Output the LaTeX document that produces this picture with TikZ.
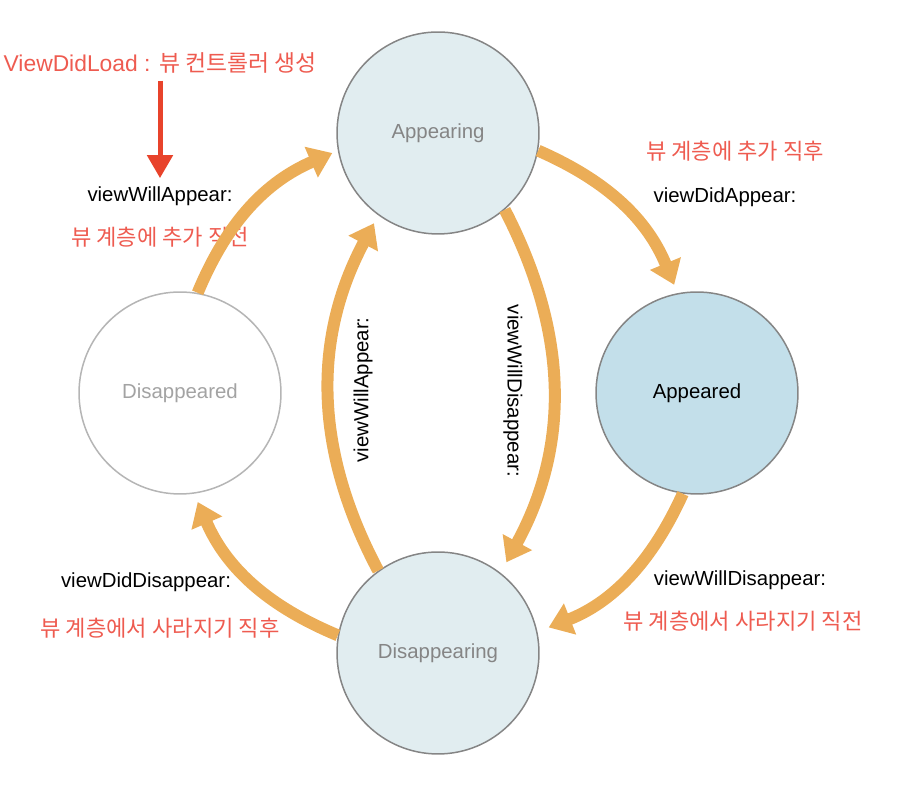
\documentclass[tikz,border=0pt]{standalone}
\usepackage{fontspec}
\setmainfont{Liberation Sans}
\newfontfamily\kr{Noto Sans CJK KR}
\usetikzlibrary{arrows.meta}
\definecolor{appfill}{HTML}{E1EDF0}
\definecolor{apdfill}{HTML}{C3DFEA}
\definecolor{stategray}{HTML}{858585}
\definecolor{disgray}{HTML}{B5B5B5}
\definecolor{disfont}{HTML}{A3A3A3}
\definecolor{floworange}{HTML}{EBAD57}
\definecolor{notered}{HTML}{EE5B50}
\definecolor{loadred}{HTML}{E8432B}

\begin{document}
\begin{tikzpicture}[x=0.02cm, y=0.02cm,
		state/.style={circle, draw=stategray, line width=0.03cm, minimum size=4.04cm, inner sep=0pt, font=\fontsize{11.6}{14}\selectfont},
		call/.style={inner sep=0pt, font=\fontsize{11.6}{14}\selectfont},
		note/.style={inner sep=0pt, text=notered, font=\kr\fontsize{12.6}{15}\selectfont},
		flow/.style={draw=floworange, line width=0.24cm, -{Triangle[length=0.46cm, width=0.64cm]}}]
			%%%%% START %%%%%
			
			\useasboundingbox (0, 0) rectangle (900, 786);
			
			\node[state, fill=appfill, text=stategray] (appearing) at (438, 653) {Appearing};
			\node[state, fill=apdfill, text=black] (appeared) at (697, 393) {Appeared};
			\node[state, fill=white, draw=disgray, text=disfont] (disappeared) at (180, 393) {Disappeared};
			\node[state, fill=appfill, text=stategray] (disappearing) at (438, 133) {Disappearing};
			
			\node[inner sep=0pt, text=notered, font=\fontsize{13}{16}\selectfont] (load) at (160, 723) {ViewDidLoad : {\kr 뷰 컨트롤러 생성}};
			\node[call] (willappear) at (160, 590) {viewWillAppear:};
			\node[note] (willappearkr) at (160, 549) {뷰 계층에 추가 직전};
			\node[note] (didappearkr) at (735, 635) {뷰 계층에 추가 직후};
			\node[call] (didappear) at (725, 589) {viewDidAppear:};
			\node[call, rotate=90] (willappearin) at (363, 396) {viewWillAppear:};
			\node[call, rotate=-90] (willdisappearin) at (513, 395) {viewWillDisappear:};
			\node[call] (diddisappear) at (146, 204) {viewDidDisappear:};
			\node[note] (diddisappearkr) at (160, 158) {뷰 계층에서 사라지기 직후};
			\node[call] (willdisappear) at (740, 206) {viewWillDisappear:};
			\node[note] (willdisappearkr) at (743, 165) {뷰 계층에서 사라지기 직전};
			
			\draw[loadred, line width=0.1cm, -{Triangle[length=0.46cm, width=0.5cm]}, shorten <=0.14cm, shorten >=0.16cm] (load) -- (willappear);
			
			% outer ring
			\draw[flow, shorten >=0.12cm] (disappeared.80) to[bend left=22] (appearing.190);
			\draw[flow, shorten >=0.18cm] (appearing.-10) to[bend left=22] (appeared.101);
			\draw[flow, shorten >=0.24cm] (appeared.262) to[bend left=22] (disappearing.12);
			\draw[flow, shorten >=0.18cm] (disappearing.170) to[bend left=22] (disappeared.-82);
			
			% inner pair
			\draw[flow, shorten >=0.24cm] (appearing.-49) to[bend left=28] (disappearing.52);
			\draw[flow, shorten >=0.18cm] (disappearing.126) to[bend left=28] (appearing.234);
			
			%%%%% END %%%%%
\end{tikzpicture}
\end{document}
